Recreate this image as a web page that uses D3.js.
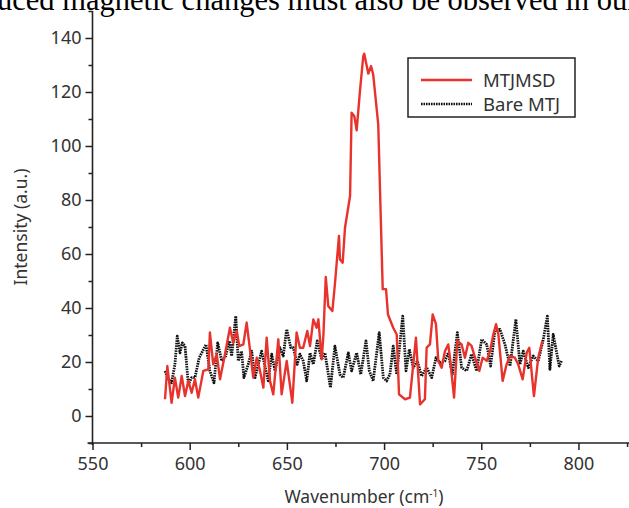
<!DOCTYPE html>
<html>
<head>
<meta charset="utf-8">
<script src="https://cdn.jsdelivr.net/npm/d3@7"></script>
<style>
  html, body { margin: 0; padding: 0; background: #fff; }
  svg { display: block; }
  text { font-family: "Noto Sans", "Open Sans", sans-serif; fill: #333; }
</style>
</head>
<body>
<svg id="chart" width="629" height="508"></svg>
<script>
// ---- data ----
const seriesNames = ["MTJMSD", "Bare MTJ"];

const mtjmsdWavenumber = [587.3,588.5,590.7,592.4,594.1,595.9,597.6,599.3,601,602.7,604.4,607,609.6,610.4,612.1,613.9,615.6,617.8,620.7,622.4,624.2,625.5,627.6,629.3,631,632.7,634.5,636.2,637.9,639.6,641.3,643,645.6,647.3,649.9,652.8,655,656.7,658.4,660.5,661.9,663.6,665.3,666.2,667.9,668.8,670,671.3,673.4,674.7,676.8,677.3,678.7,679.9,682.5,683.3,684.7,685.9,687.6,689.3,689.8,691.9,693.3,694.4,697,699.3,701,702,704.7,706.5,707.7,710.8,713.3,716.4,718.5,721,721.9,723.6,725,726.7,727.9,729.6,731.3,733,733.9,736,737.7,739.9,741.6,743.3,745,746.8,749,750.7,752.8,754.5,756.2,757.6,758.8,761,763,764.8,767.3,769,771.3,773.4,774.7,777.1,779.3,781.4];
const mtjmsdIntensity = [6.2,18.5,4.9,14.2,6.8,14.8,7.4,13,8.6,13.6,6.8,16.7,17.3,30.9,19.1,22.9,13.6,21.6,32.7,27.1,31.5,25.9,26.5,34.6,24.7,14.2,21.6,16.7,10.5,29,13,8,28.4,8,20.4,4.9,30.9,25.3,25.3,31.5,25.9,35.8,32.7,35.8,21,30,51.5,40.7,38.9,48.8,66.7,58,56.8,69.7,81.5,112.3,111,105.8,120.4,133.3,134.2,126.8,129.6,126.5,108,47,47,37.6,32.7,30.2,8,6.2,6.8,29,4.3,6.2,25.3,26.5,37.6,34,20.4,17.9,24,26.5,21.6,6.8,27.8,26.5,21.6,27.1,26,21.6,16.7,21.6,20.4,24,30.2,34,30.2,13,19.1,22.2,21.6,19.1,13.6,23.5,25.3,7.4,21.6,27.8];

const bareWavenumber = [587.3,589,590.7,592.4,593.6,595,596.2,597.6,599.3,601,602.7,604.9,606.2,608.4,610.4,612.5,614.4,616.5,618.5,620.4,621.6,623.7,625,626.7,627.9,630.1,631.9,633.6,635.3,637,638.7,640.4,642.2,643.9,646.4,648.1,649.9,652,653.3,655.3,656.7,658.4,660.2,661.9,663.6,665.6,667.9,669.6,672.4,674.7,677.3,679,681.6,683.3,685.9,688,690.7,692.4,694.4,697.5,699.6,701.3,703,704.7,706.5,709.6,711.3,713,715,717.1,719.3,721.9,724.5,726.7,728.8,731.3,733,735.1,737.7,739.9,742.5,745,747.6,750.2,752.8,754.8,757,759.6,762.2,764.8,767.8,769.9,771.6,774.2,776.7,779.3,781.9,784,785.3,787,788.8,790.1,791.4];
const bareIntensity = [16.7,13.6,12.3,19.1,29.6,23.4,27.1,25.9,11.7,14.2,14.2,21.6,23.4,26.5,16.7,12.3,27.1,20.4,22.2,27.8,22.2,37,20.4,24,14.2,19.1,24,14.2,19.1,24,18.5,13,22.9,16.7,25.3,22.2,32.1,25.3,25.3,19.1,22.9,20.4,13,23.4,19.1,27.8,21,23.4,10.5,25.9,15.4,14.2,23.4,16.7,23.4,15.4,27.8,16.7,13,30.9,14.2,13,15.4,25.9,15.4,37,16.7,24.7,17.9,20.4,14.8,17.9,14.2,21.6,19.7,20.4,23.4,15.4,30.9,17.9,16.7,22.9,16.7,28.4,26.5,18.5,31.5,32.1,26.5,18.5,35.8,19.1,24,17.9,22.2,20.4,28.4,37,17.3,30.2,23.4,18.5,20.6];

const xTicks = [550, 600, 650, 700, 750, 800];
const xMinorTicks = [575, 625, 675, 725, 775, 825];
const yTicks = [0, 20, 40, 60, 80, 100, 120, 140];
const yMinorTicks = [-10, 10, 30, 50, 70, 90, 110, 130, 150];

const xTitle = "Wavenumber (cm";
const yTitle = "Intensity (a.u.)";
const headerText = "uced magnetic changes must also be observed in our";

// ---- drawing ----
const svg = d3.select("#chart");
const x = d3.scaleLinear().domain([550, 826]).range([92.5, 629]);
const y = d3.scaleLinear().domain([-10, 150]).range([443, 11]);

// cut-off header text from the source document
svg.append("text")
  .attr("x", -3).attr("y", 10)
  .style("font-family", "'Liberation Serif', 'Times New Roman', serif")
  .style("font-size", "30.5px").style("fill", "#000")
  .text(headerText);

const axisColor = "#222";

// y axis
const gy = svg.append("g").attr("transform", `translate(${x(550)},0)`);
gy.call(d3.axisLeft(y).tickValues(yTicks).tickSize(7).tickPadding(4).tickFormat(d3.format("d")));
gy.append("g").call(d3.axisLeft(y).tickValues(yMinorTicks).tickSize(4).tickFormat(""));
gy.selectAll(".domain").remove();
gy.append("line").attr("x1", 0).attr("x2", 0).attr("y1", y(150)).attr("y2", y(-10) + 2)
  .attr("stroke", axisColor).attr("stroke-width", 1.6);

// x axis
const gx = svg.append("g").attr("transform", `translate(0,${y(-10)})`);
gx.call(d3.axisBottom(x).tickValues(xTicks).tickSize(7).tickPadding(7).tickFormat(d3.format("d")));
gx.append("g").call(d3.axisBottom(x).tickValues(xMinorTicks).tickSize(4).tickFormat(""));
gx.selectAll(".domain").remove();
gx.append("line").attr("x1", x(550) - 5).attr("x2", 629).attr("y1", 0).attr("y2", 0)
  .attr("stroke", axisColor).attr("stroke-width", 1.6);

svg.selectAll(".tick line").attr("stroke", axisColor).attr("stroke-width", 1.5);
svg.selectAll(".tick text").style("font-size", "18px").style("fill", "#333")
  .style("font-family", "'Noto Sans', sans-serif");

// titles
svg.append("text")
  .attr("transform", `translate(27,${y(70)}) rotate(-90)`)
  .attr("text-anchor", "middle")
  .style("font-size", "17.5px")
  .text(yTitle);

const xt = svg.append("text")
  .attr("x", 364).attr("y", 503)
  .attr("text-anchor", "middle")
  .style("font-size", "17.5px");
xt.append("tspan").text(xTitle);
xt.append("tspan").attr("dy", -6).style("font-size", "10px").text("-1");
xt.append("tspan").attr("dy", 6).text(")");

// lines
const line = d3.line().x(d => x(d[0])).y(d => y(d[1]));
const bareData = bareWavenumber.map((w, i) => [w, bareIntensity[i]]);
const mtjData = mtjmsdWavenumber.map((w, i) => [w, mtjmsdIntensity[i]]);

svg.append("path").datum(bareData)
  .attr("d", line).attr("fill", "none")
  .attr("stroke", "#111").attr("stroke-width", 2.8)
  .attr("stroke-dasharray", "1.6,0.9")
  .attr("stroke-linejoin", "round");

svg.append("path").datum(mtjData)
  .attr("d", line).attr("fill", "none")
  .attr("stroke", "#e8332d").attr("stroke-width", 2.4)
  .attr("stroke-linejoin", "round");

// legend
const lg = svg.append("g");
lg.append("rect").attr("x", 408).attr("y", 58).attr("width", 167).attr("height", 59)
  .attr("fill", "#fff").attr("stroke", "#222").attr("stroke-width", 1.5);
lg.append("line").attr("x1", 421).attr("x2", 472).attr("y1", 80).attr("y2", 80)
  .attr("stroke", "#e8332d").attr("stroke-width", 2.4);
lg.append("line").attr("x1", 421).attr("x2", 472).attr("y1", 104).attr("y2", 104)
  .attr("stroke", "#111").attr("stroke-width", 2.6).attr("stroke-dasharray", "1.6,0.9");
lg.append("text").attr("x", 483).attr("y", 87).style("font-size", "18.5px").text(seriesNames[0]);
lg.append("text").attr("x", 483).attr("y", 111).style("font-size", "18.5px").text(seriesNames[1]);
</script>
</body>
</html>
